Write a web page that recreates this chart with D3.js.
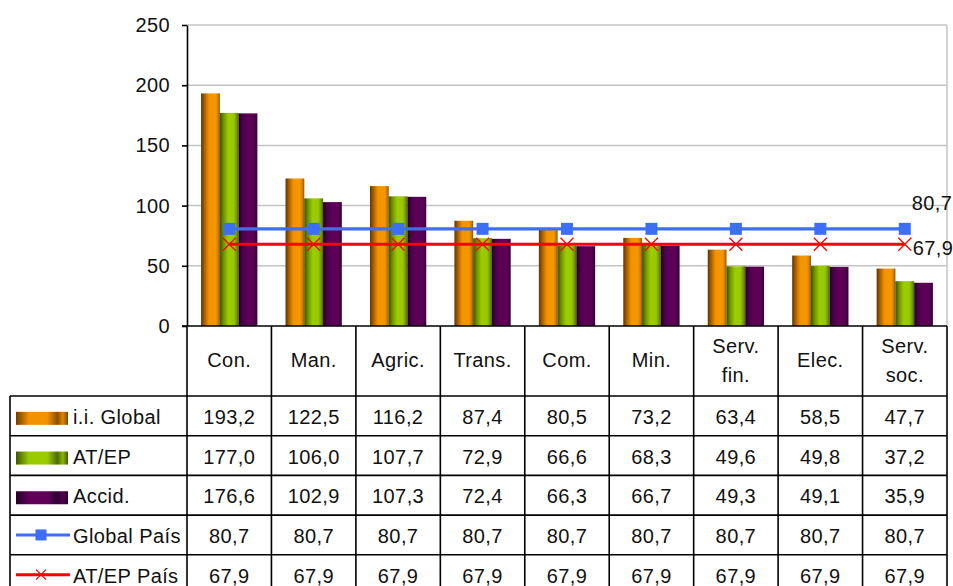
<!DOCTYPE html>
<html lang="es">
<head>
  <meta charset="UTF-8">
  <title>Índice de incidencia por sector</title>
  <script src="https://d3js.org/d3.v7.min.js"></script>
  <style>
    body { margin: 0; background: #fff; }
    text { font-family: "Liberation Sans", Arial, sans-serif; font-size: 20px; letter-spacing: 0.4px; fill: #111; }
    .grid line { stroke: #c4c4c4; stroke-width: 1.5px; }
    .tbl line { stroke: #000; stroke-width: 1.6px; }
  </style>
</head>
<body>
  <svg width="953" height="586"></svg>
  <script>
    // categories (two-line labels split with "|")
    const categories = ["Con.", "Man.", "Agric.", "Trans.", "Com.", "Min.", "Serv.|fin.", "Elec.", "Serv.|soc."];
    const iiGlobal   = [193.2, 122.5, 116.2, 87.4, 80.5, 73.2, 63.4, 58.5, 47.7];
    const atEp       = [177.0, 106.0, 107.7, 72.9, 66.6, 68.3, 49.6, 49.8, 37.2];
    const accid      = [176.6, 102.9, 107.3, 72.4, 66.3, 66.7, 49.3, 49.1, 35.9];
    const globalPais = [80.7, 80.7, 80.7, 80.7, 80.7, 80.7, 80.7, 80.7, 80.7];
    const atEpPais   = [67.9, 67.9, 67.9, 67.9, 67.9, 67.9, 67.9, 67.9, 67.9];
    const yTicks     = [0, 50, 100, 150, 200, 250];

    const barSeries = [
      { name: "i.i. Global", values: iiGlobal, grad: "gOrange", key: "kOrange" },
      { name: "AT/EP", values: atEp, grad: "gGreen", key: "kGreen" },
      { name: "Accid.", values: accid, grad: "gPurple", key: "kPurple" }
    ];
    const lineSeries = [
      { name: "Global País", values: globalPais, color: "#3d6ef6", marker: "square" },
      { name: "AT/EP País", values: atEpPais, color: "#ff0000", marker: "cross" }
    ];

    const svg = d3.select("svg");
    const plotL = 187, plotR = 947, plotT = 25, zero = 326;
    const headerBottom = 396, rowH = 39.7, legendLeft = 10;
    const fmt = v => d3.format(".1f")(v).replace(".", ",");

    const x = d3.scaleBand().domain(categories).range([plotL, plotR]).padding(0);
    const x1 = d3.scaleBand().domain(barSeries.map(d => d.name))
      .range([0, x.bandwidth()]).paddingInner(0).paddingOuter(0.75);
    const y = d3.scaleLinear().domain([0, 250]).range([zero, plotT]);

    // gradients for the bars and legend keys
    const defs = svg.append("defs");
    function grad(id, stops) {
      const g = defs.append("linearGradient").attr("id", id)
        .attr("x1", 0).attr("x2", 1).attr("y1", 0).attr("y2", 0);
      stops.forEach(s => g.append("stop").attr("offset", s[0]).attr("stop-color", s[1]));
    }
    grad("gOrange", [[0, "#5e3500"], [0.18, "#a85e00"], [0.42, "#f39300"], [0.78, "#f59800"], [0.92, "#c97700"], [1, "#8a5200"]]);
    grad("gGreen", [[0, "#3a5200"], [0.2, "#6f9300"], [0.45, "#9ccc00"], [0.75, "#98c800"], [0.92, "#6c8e00"], [1, "#4c6500"]]);
    grad("gPurple", [[0, "#24002a"], [0.2, "#4a0048"], [0.45, "#5e0058"], [0.8, "#5a0054"], [1, "#35003a"]]);
    grad("kOrange", [[0, "#6e3e00"], [0.25, "#f29200"], [0.6, "#f29200"], [0.8, "#8a5000"], [0.9, "#e08800"], [1, "#7a4600"]]);
    grad("kGreen", [[0, "#3e5600"], [0.25, "#9acb00"], [0.6, "#9acb00"], [0.8, "#4e6a00"], [0.9, "#8cb800"], [1, "#405a00"]]);
    grad("kPurple", [[0, "#26002a"], [0.25, "#600058"], [0.6, "#600058"], [0.8, "#2c0030"], [0.9, "#560050"], [1, "#26002a"]]);

    // gridlines
    svg.append("g").attr("class", "grid")
      .selectAll("line").data(yTicks.filter(d => d > 0)).join("line")
      .attr("x1", plotL).attr("x2", plotR)
      .attr("y1", d => y(d)).attr("y2", d => y(d));
    svg.append("line").attr("x1", plotR).attr("x2", plotR).attr("y1", plotT).attr("y2", zero)
      .attr("stroke", "#c4c4c4").attr("stroke-width", 1.5);

    // bars
    const groups = svg.append("g").selectAll("g").data(barSeries).join("g");
    groups.selectAll("rect")
      .data(s => s.values.map((v, i) => ({ s, v, c: categories[i] })))
      .join("rect")
      .attr("x", d => x(d.c) + x1(d.s.name))
      .attr("width", x1.bandwidth())
      .attr("y", d => y(d.v))
      .attr("height", d => zero - y(d.v))
      .attr("fill", d => `url(#${d.s.grad})`);

    // lines with markers
    const cx = c => x(c) + x.bandwidth() / 2;
    function drawMarker(g, type, color, size) {
      if (type === "square") {
        g.append("rect").attr("x", -size / 2).attr("y", -size / 2)
          .attr("width", size).attr("height", size).attr("fill", color);
      } else {
        const h = size / 2;
        g.append("path").attr("d", `M${-h},${-h}L${h},${h}M${-h},${h}L${h},${-h}`)
          .attr("stroke", color).attr("stroke-width", 1.3).attr("fill", "none");
      }
    }
    lineSeries.forEach(s => {
      const pts = s.values.map((v, i) => [cx(categories[i]), y(v)]);
      svg.append("path").attr("d", d3.line()(pts))
        .attr("fill", "none").attr("stroke", s.color).attr("stroke-width", 3.2);
      pts.forEach(p => {
        const g = svg.append("g").attr("transform", `translate(${p[0]},${p[1]})`);
        drawMarker(g, s.marker, s.color, s.marker === "square" ? 12 : 13);
      });
    });

    // end labels
    const lastX = cx(categories[categories.length - 1]);
    svg.append("text").attr("x", lastX + 7).attr("y", y(globalPais[8]) - 26)
      .attr("dy", "0.35em").text(fmt(globalPais[8]));
    svg.append("text").attr("x", lastX + 8).attr("y", y(atEpPais[8]) + 4)
      .attr("dy", "0.35em").text(fmt(atEpPais[8]));

    // y axis
    const yAxis = svg.append("g").attr("transform", `translate(${plotL},0)`)
      .call(d3.axisLeft(y).tickValues(yTicks).tickSize(5).tickSizeOuter(0).tickPadding(12));
    yAxis.select(".domain").attr("stroke", "#000").attr("stroke-width", 1.6);
    yAxis.selectAll(".tick line").attr("stroke", "#000").attr("stroke-width", 1.6);
    yAxis.selectAll("text").style("font-size", "20px")
      .style("font-family", "'Liberation Sans', Arial, sans-serif").attr("fill", "#111");

    // data table
    const rows = [...barSeries, ...lineSeries];
    const tableBottom = headerBottom + rows.length * rowH;
    const tbl = svg.append("g").attr("class", "tbl");
    tbl.append("line").attr("x1", plotL - 5).attr("x2", plotR).attr("y1", zero).attr("y2", zero);
    const bounds = categories.map(c => x(c)).concat([plotR]);
    tbl.selectAll(".v").data(bounds).join("line").attr("class", "v")
      .attr("x1", d => d).attr("x2", d => d)
      .attr("y1", zero).attr("y2", tableBottom);
    tbl.append("line").attr("x1", legendLeft).attr("x2", legendLeft)
      .attr("y1", headerBottom).attr("y2", tableBottom);
    tbl.selectAll(".h").data(d3.range(rows.length + 1)).join("line").attr("class", "h")
      .attr("x1", legendLeft).attr("x2", plotR)
      .attr("y1", i => headerBottom + i * rowH).attr("y2", i => headerBottom + i * rowH);

    // header labels
    const hdr = svg.append("g").selectAll("text").data(categories).join("text")
      .attr("text-anchor", "middle")
      .attr("x", c => cx(c));
    hdr.each(function (c) {
      const parts = c.split("|");
      const t = d3.select(this);
      const mid = (zero + headerBottom) / 2;
      parts.forEach((p, i) => {
        t.append("tspan").attr("x", cx(c))
          .attr("y", mid - 1 + (i - (parts.length - 1) / 2) * 29)
          .attr("dy", "0.35em").text(p);
      });
    });

    // rows
    rows.forEach((s, r) => {
      const cy = headerBottom + r * rowH + rowH / 2;
      s.values.forEach((v, i) => {
        svg.append("text").attr("x", cx(categories[i])).attr("y", cy + 1)
          .attr("dy", "0.35em").attr("text-anchor", "middle").text(fmt(v));
      });
      svg.append("text").attr("x", 73).attr("y", cy + 1).attr("dy", "0.35em").text(s.name);
      if (s.grad) {
        svg.append("rect").attr("x", 16).attr("y", cy - 4).attr("width", 52).attr("height", 13)
          .attr("fill", `url(#${s.key})`);
      } else {
        svg.append("line").attr("x1", 16).attr("x2", 70).attr("y1", cy).attr("y2", cy)
          .attr("stroke", s.color).attr("stroke-width", 3);
        const g = svg.append("g").attr("transform", `translate(41,${cy})`);
        drawMarker(g, s.marker, s.color, s.marker === "square" ? 11 : 10);
      }
    });
  </script>
</body>
</html>
